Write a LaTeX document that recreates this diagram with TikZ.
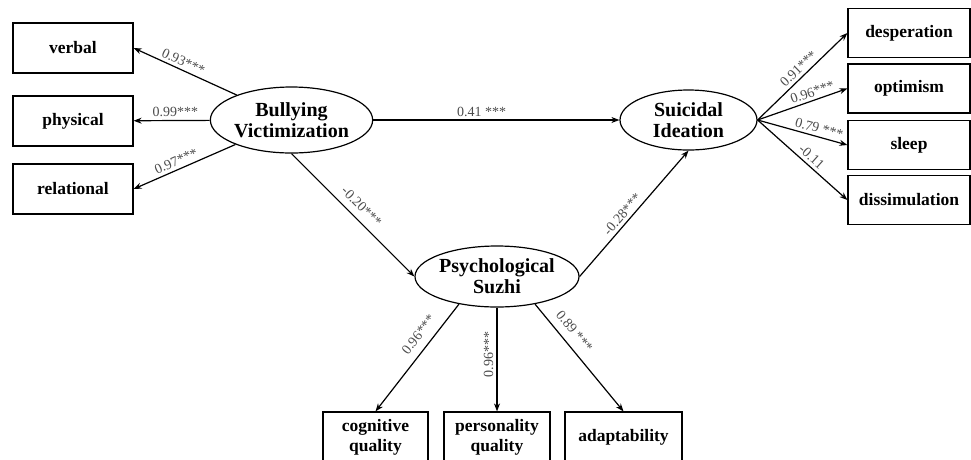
\documentclass[tikz,border=0pt]{standalone}
\usepackage{fontspec}
\setmainfont{Liberation Serif}
\usetikzlibrary{shapes,arrows.meta}

\tikzset{
  box/.style={draw, minimum width=120pt, minimum height=49pt, inner sep=2pt, align=center,
    font=\fontsize{17.5}{20}\selectfont\bfseries},
  latent/.style={draw, ellipse, inner sep=0pt, align=center,
    font=\fontsize{20}{21}\selectfont\bfseries},
  coef/.style={sloped, above, inner sep=3pt, text=black!70,
    font=\fontsize{14}{16}\selectfont}
}

\begin{document}
\begin{tikzpicture}[x=1pt, y=-1pt, line width=1.2pt, >={Stealth[length=8pt, width=6pt]}]
  \useasboundingbox (0,0) rectangle (971,459);

  % latent variables
  \node[latent, minimum width=157pt, minimum height=66pt] (bully) at (291.5,120) {Bullying\\Victimization};
  \node[latent, minimum width=137pt, minimum height=60pt] (ideation) at (688.5,120) {Suicidal\\Ideation};
  \node[latent, minimum width=164pt, minimum height=61pt] (suzhi) at (497,276.5) {Psychological\\Suzhi};

  % indicators
  \node[box, minimum height=50pt] (verbal) at (73,48) {verbal};
  \node[box, minimum height=50pt] (physical) at (73,121) {physical};
  \node[box, minimum height=50pt] (relational) at (73,189) {relational};

  \node[box, minimum width=122pt] (desperation) at (909,33) {desperation};
  \node[box, minimum width=122pt] (optimism) at (909,88.5) {optimism};
  \node[box, minimum width=122pt] (sleep) at (909,145) {sleep};
  \node[box, minimum width=122pt] (dissimulation) at (909,200) {dissimulation};

  \node[box, minimum width=105pt, minimum height=51pt] (cognitive) at (375.5,437.5) {cognitive\\quality};
  \node[box, minimum width=106pt, minimum height=51pt] (personality) at (497,437.5) {personality\\quality};
  \node[box, minimum width=117pt, minimum height=51pt] (adapt) at (623.5,437.5) {adaptability};

  \draw [->] (bully) -- node[coef, pos=0.55] {0.93***} (verbal.east);
  \draw [->] (bully) -- node[coef, pos=0.45] {0.99***} (physical);
  \draw [->] (bully) -- node[coef, pos=0.55] {0.97***} (relational.east);

  \draw [->] (bully) -- node[coef, pos=0.44] {0.41 ***} (ideation);
  \draw [->] (bully.south) -- node[coef, pos=0.5, yshift=4pt] {-0.20***} (suzhi.west);
  \draw [->] (suzhi.east) -- node[coef, pos=0.45] {-0.28***} (ideation.south);

  \draw [->] (ideation.east) -- node[coef, pos=0.52] {0.91***} (desperation.west);
  \draw [->] (ideation.east) -- node[coef, pos=0.64] {0.96***} (optimism.west);
  \draw [->] (ideation.east) -- node[coef, pos=0.66] {0.79 ***} (sleep.west);
  \draw [->] (ideation.east) -- node[coef, pos=0.54] {-0.11} (dissimulation.west);

  \draw [->] (suzhi.216) -- node[coef, pos=0.36, yshift=5pt] {0.96***} (cognitive.north);
  \draw [<-] (personality.north) -- node[coef, pos=0.55] {0.96***} (suzhi.south);
  \draw [->] (suzhi.324) -- node[coef, pos=0.33, yshift=5pt] {0.89 ***} (adapt.north);
\end{tikzpicture}
\end{document}
